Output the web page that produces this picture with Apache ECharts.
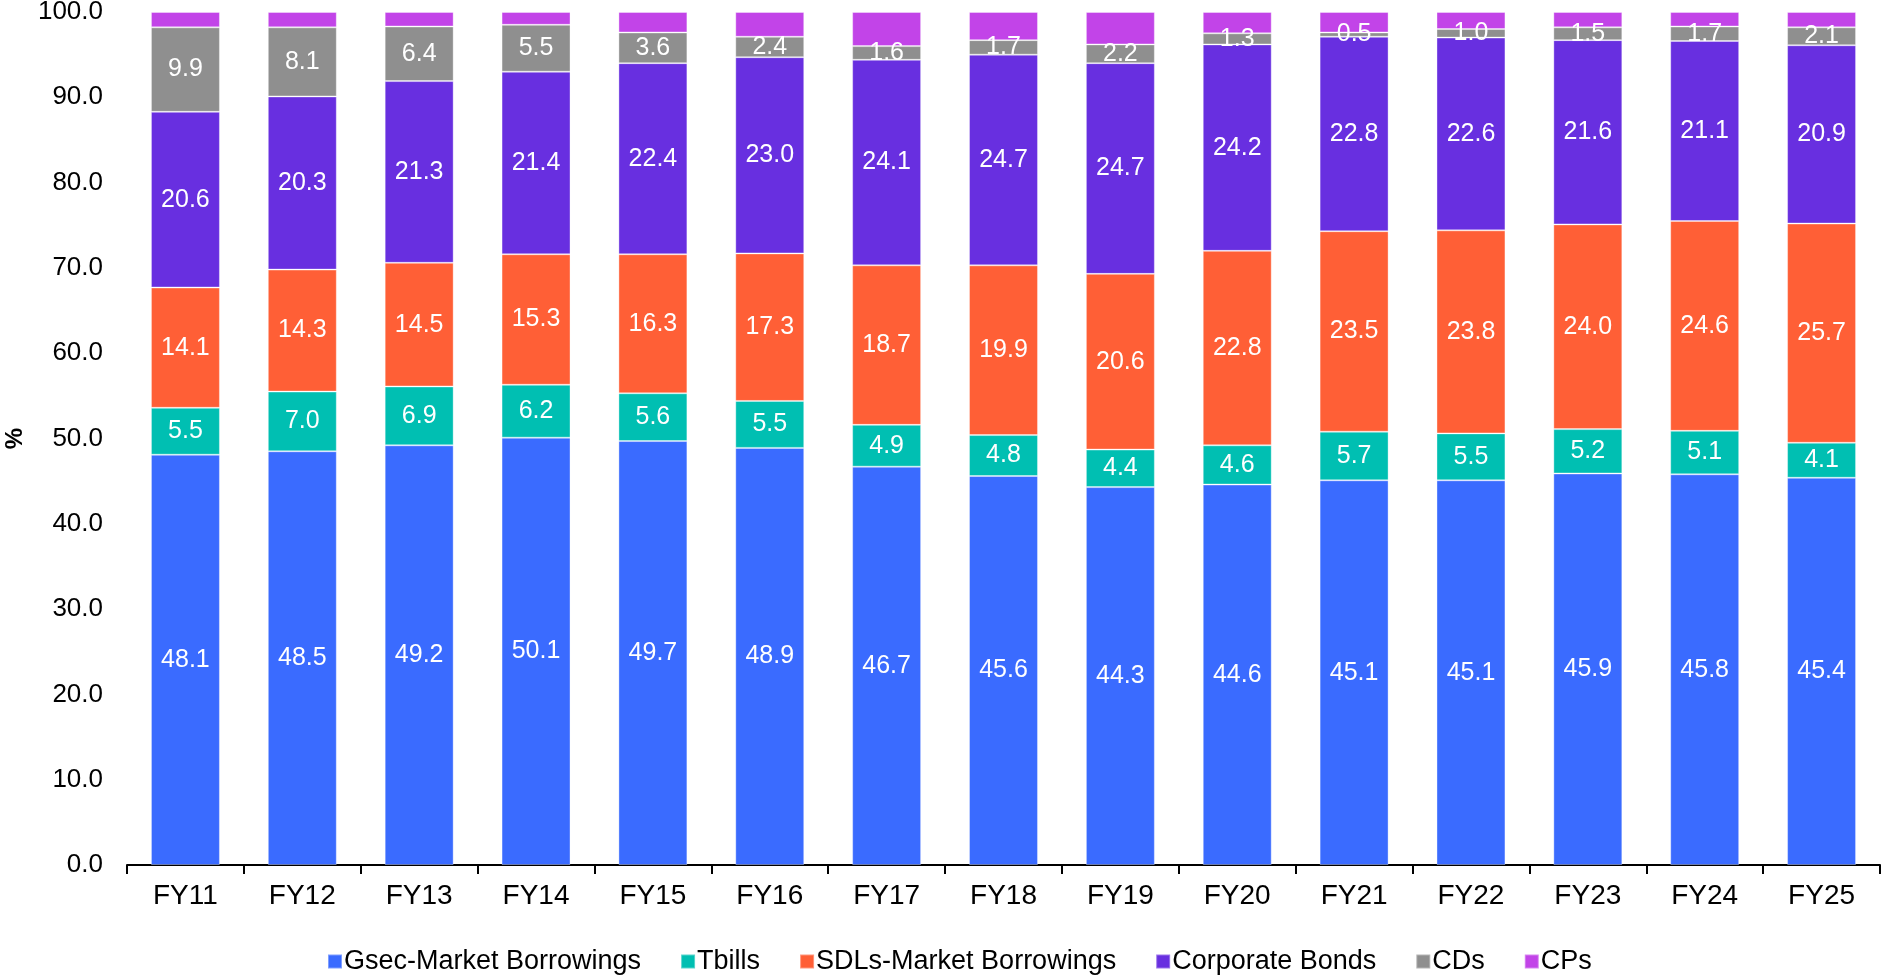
<!DOCTYPE html>
<html>
<head>
<meta charset="utf-8">
<title>Share of outstanding debt instruments</title>
<script src="https://cdn.jsdelivr.net/npm/echarts@6/dist/echarts.min.js"></script>
<style>
  html, body { margin: 0; padding: 0; background: #ffffff; }
  #chart { width: 1883px; height: 976px; }
</style>
</head>
<body>
<div id="chart"></div>
<script>
// Fiscal years on the category axis
const years = ['FY11', 'FY12', 'FY13', 'FY14', 'FY15', 'FY16', 'FY17', 'FY18', 'FY19', 'FY20', 'FY21', 'FY22', 'FY23', 'FY24', 'FY25'];

// Share of each instrument, in %
const gsec      = [48.1, 48.5, 49.2, 50.1, 49.7, 48.9, 46.7, 45.6, 44.3, 44.6, 45.1, 45.1, 45.9, 45.8, 45.4];
const tbills    = [5.5, 7.0, 6.9, 6.2, 5.6, 5.5, 4.9, 4.8, 4.4, 4.6, 5.7, 5.5, 5.2, 5.1, 4.1];
const sdls      = [14.1, 14.3, 14.5, 15.3, 16.3, 17.3, 18.7, 19.9, 20.6, 22.8, 23.5, 23.8, 24.0, 24.6, 25.7];
const corpBonds = [20.6, 20.3, 21.3, 21.4, 22.4, 23.0, 24.1, 24.7, 24.7, 24.2, 22.8, 22.6, 21.6, 21.1, 20.9];
const cds       = [9.9, 8.1, 6.4, 5.5, 3.6, 2.4, 1.6, 1.7, 2.2, 1.3, 0.5, 1.0, 1.5, 1.7, 2.1];
const cps       = [1.8, 1.8, 1.7, 1.5, 2.4, 2.9, 4.0, 3.3, 3.8, 2.5, 2.4, 2.0, 1.8, 1.7, 1.8];

// Y-axis tick values
const yTicks = [0, 10, 20, 30, 40, 50, 60, 70, 80, 90, 100];

const FONT = '"Liberation Sans", Arial, sans-serif';

const seriesDefs = [
  { name: 'Gsec-Market Borrowings', data: gsec,      color: '#3A6BFF', label: true },
  { name: 'Tbills',                 data: tbills,    color: '#00BFB2', label: true },
  { name: 'SDLs-Market Borrowings', data: sdls,      color: '#FF5F36', label: true },
  { name: 'Corporate Bonds',        data: corpBonds, color: '#682FE0', label: true },
  { name: 'CDs',                    data: cds,       color: '#8F8F8F', label: true },
  { name: 'CPs',                    data: cps,       color: '#C244E8', label: false }
];

const chart = echarts.init(document.getElementById('chart'), null, { renderer: 'canvas' });

chart.setOption({
  animation: false,
  backgroundColor: '#ffffff',
  textStyle: { fontFamily: FONT },
  grid: { left: 127, right: 3, top: 12, bottom: 111, containLabel: false, outerBoundsMode: 'none' },
  legend: {
    top: 943,
    left: 322,
    icon: 'rect',
    itemWidth: 14,
    itemHeight: 14,
    itemGap: 39,
    textStyle: { fontFamily: FONT, fontSize: 27, color: '#000000', padding: [0, 0, 0, -3] },
    data: seriesDefs.map(s => s.name)
  },
  xAxis: {
    type: 'category',
    data: years,
    axisLine: { show: true, lineStyle: { color: '#000000', width: 2 } },
    axisTick: { show: true, alignWithLabel: false, length: 9, lineStyle: { color: '#000000', width: 2 } },
    axisLabel: { fontFamily: FONT, fontSize: 28, color: '#000000', margin: 17 }
  },
  yAxis: {
    type: 'value',
    min: yTicks[0],
    max: yTicks[yTicks.length - 1],
    interval: yTicks[1] - yTicks[0],
    name: '%',
    nameLocation: 'middle',
    nameGap: 98,
    nameRotate: 90,
    nameTextStyle: { fontFamily: FONT, fontSize: 24, fontWeight: 'bold', color: '#000000' },
    axisLine: { show: false },
    axisTick: { show: false },
    splitLine: { show: false },
    axisLabel: {
      fontFamily: FONT, fontSize: 26, color: '#000000', margin: 24,
      formatter: v => v.toFixed(1)
    }
  },
  series: seriesDefs.map(s => ({
    name: s.name,
    type: 'bar',
    stack: 'total',
    data: s.data,
    barWidth: '59%',
    itemStyle: { color: s.color, borderColor: 'rgba(255,255,255,0.35)', borderWidth: 1 },
    label: {
      show: s.label,
      position: 'inside',
      color: '#ffffff',
      fontFamily: FONT,
      fontSize: 25,
      formatter: p => p.value.toFixed(1)
    },
    labelLayout: { hideOverlap: false }
  }))
});
</script>
</body>
</html>
